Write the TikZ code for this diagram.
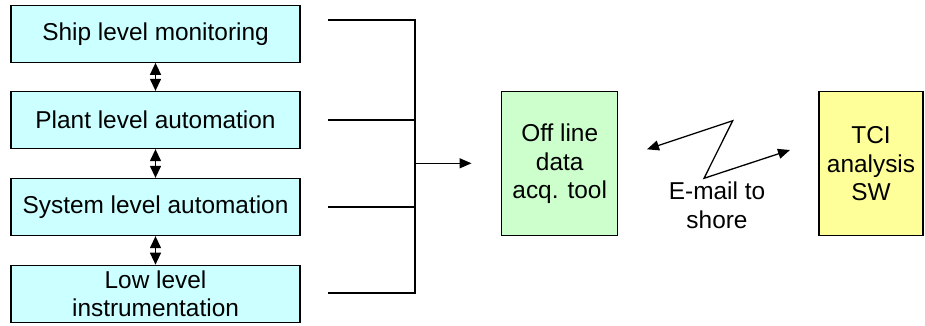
\documentclass[tikz,border=0pt]{standalone}
\usepackage{fontspec}
\setmainfont{Liberation Sans}
\usetikzlibrary{arrows.meta}
\definecolor{levelfill}{HTML}{CCFFFF}
\definecolor{toolfill}{HTML}{CCFFCC}
\definecolor{swfill}{HTML}{FFFF99}
\tikzset{
  levelbox/.style={draw=black, fill=levelfill, line width=1.3pt, minimum width=289pt, minimum height=57pt, inner sep=0pt, align=center, font=\fontsize{24.4}{28}\selectfont},
  sidebox/.style={draw=black, line width=1.3pt, minimum height=144pt, inner sep=0pt, align=center, font=\fontsize{24.4}{28.5}\selectfont},
  wire/.style={line width=1.3pt, black},
  bigtip/.style={-{Triangle[length=12pt,width=10pt]}},
  linktip/.style={{Triangle[length=12pt,width=11pt]}-{Triangle[length=12pt,width=11pt]}},
  labeltext/.style={align=center, inner sep=0pt, font=\fontsize{24.4}{29}\selectfont}
}
\begin{document}
\begin{tikzpicture}[x=1pt,y=-1pt]
  \useasboundingbox (0,0) rectangle (925,325);

  % automation levels
  \node[levelbox] (s1) at (155.5,33.7) {Ship level monitoring};
  \node[levelbox] (s2) at (155.5,120) {Plant level automation};
  \node[levelbox] (s3) at (155.5,207) {System level automation};
  \node[levelbox] (s4) at (155.5,293.8) {Low level\\instrumentation};

  % links between levels
  \draw[wire, linktip] (s1.south) -- (s2.north);
  \draw[wire, linktip] (s2.south) -- (s3.north);
  \draw[wire, linktip] (s3.south) -- (s4.north);

  % data collection bus
  \coordinate (a1) at (328,20);
  \coordinate (a2) at (328,120);
  \coordinate (a3) at (328,207);
  \coordinate (a4) at (328,293);
  \coordinate (b1) at (415,20);
  \coordinate (b2) at (415,120);
  \coordinate (b3) at (415,207);
  \coordinate (b4) at (415,293);
  \coordinate (bm) at (415,163.3);
  \draw[wire] (a1) -- (b1) -- (b4) -- (a4);
  \draw[wire] (a2) -- (b2);
  \draw[wire] (a3) -- (b3);

  % tools
  \node[sidebox, fill=toolfill, minimum width=116pt] (tool) at (559.7,163.8) {Off line\\data\\acq. tool};
  \node[sidebox, fill=swfill, minimum width=104pt] (sw) at (871,163.8) {TCI\\analysis\\SW};

  \coordinate (arrend) at (471.5,163.3);
  \draw[wire, bigtip] (bm) -- (arrend);

  % e-mail link
  \coordinate (z0) at (647,149.3);
  \coordinate (z1) at (732.7,120.7);
  \coordinate (z2) at (704,178.3);
  \coordinate (z3) at (790,150);
  \draw[wire, {Triangle[length=12pt,width=10pt]}-{Triangle[length=12pt,width=10pt]}, line join=miter] (z0) -- (z1) -- (z2) -- (z3);
  \node[labeltext] (mail) at (717,205) {E-mail to\\shore};
\end{tikzpicture}
\end{document}
